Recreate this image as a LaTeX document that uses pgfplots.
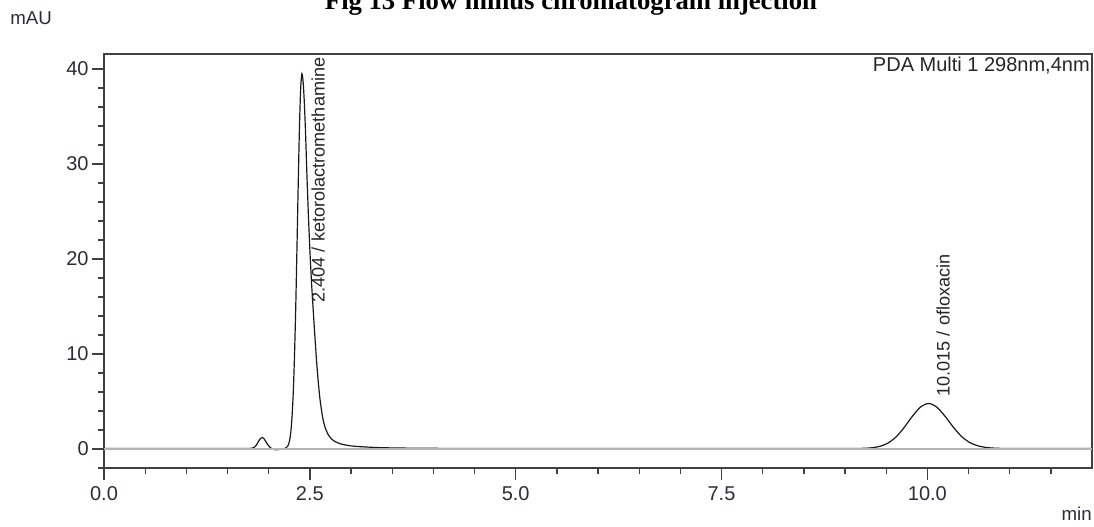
\documentclass[border=0pt]{standalone}
\usepackage{fontspec}
\setmainfont{Liberation Sans}
\newfontfamily\titlefont{Liberation Serif}
\usepackage{pgfplots}
\pgfplotsset{compat=1.18}
\usepackage{pgfplotstable}
\definecolor{axcol}{HTML}{404040}
\definecolor{tickcol}{HTML}{2A2C3C}
\definecolor{basecol}{HTML}{B4B4B4}
\pgfplotstableread{
x y
0.00 0.05
1.00 0.05
1.70 0.05
1.78 0.07
1.82 0.15
1.85 0.40
1.88 0.85
1.90 1.10
1.92 1.22
1.94 1.12
1.96 0.85
1.99 0.45
2.02 0.15
2.05 -0.02
2.09 -0.08
2.13 -0.05
2.17 0.02
2.20 0.06
2.234 0.33
2.254 0.88
2.269 1.8
2.284 3.4
2.299 6.0
2.314 9.9
2.329 15.0
2.344 21.3
2.359 27.9
2.374 33.9
2.389 38.0
2.404 39.5
2.419 38.6
2.434 36.3
2.449 33.0
2.464 29.0
2.484 24.3
2.504 20.3
2.524 17.0
2.544 14.2
2.564 11.5
2.584 9.0
2.604 6.9
2.624 5.2
2.654 3.4
2.684 2.3
2.724 1.5
2.764 1.05
2.804 0.8
2.854 0.6
2.904 0.47
3.00 0.33
3.10 0.25
3.25 0.18
3.40 0.13
3.70 0.09
4.00 0.07
5.00 0.05
9.00 0.05
9.215 0.07
9.315 0.12
9.415 0.26
9.515 0.59
9.615 1.23
9.715 2.22
9.815 3.41
9.915 4.41
10.015 4.80
10.115 4.41
10.215 3.45
10.315 2.30
10.415 1.32
10.515 0.68
10.615 0.33
10.715 0.16
10.815 0.09
10.915 0.06
11.20 0.05
12.00 0.05
}\signal
\pgfplotstableread{
x y
0 0.05
12 0.05
}\baseline
\begin{document}
\begin{tikzpicture}
\begin{axis}[
  name=ax,
  at={(0,0)}, anchor=south west,
  scale only axis,
  width=741pt, height=310.5pt,
  xmin=0, xmax=12, ymin=-2, ymax=41.58,
  axis line style={color=axcol, line width=1.1pt},
  every tick/.style={color=axcol, line width=1.0pt},
  tick align=outside,
  major tick length=9pt, minor tick length=4.5pt,
  xtick={0,2.5,5,7.5,10},
  xticklabels={0.0,2.5,5.0,7.5,10.0},
  minor xtick={0.5,1,1.5,2,3,3.5,4,4.5,5.5,6,6.5,7,8,8.5,9,9.5,10.5,11,11.5},
  ytick={0,10,20,30,40},
  minor ytick={-2,2,4,6,8,12,14,16,18,22,24,26,28,32,34,36,38},
  xtick pos=bottom, ytick pos=left,
  /pgf/number format/assume math mode=true,
  tick label style={font=\fontsize{15}{17}\selectfont, text=tickcol},
  xticklabel style={yshift=-1.5pt},
  yticklabel style={xshift=1pt},
  clip=false,
]
\addplot[black!90, line width=0.9pt, smooth, tension=0.4] table[x=x,y=y]{\signal};
\addplot[basecol, line width=1.5pt] table[x=x,y=y]{\baseline};
\node[rotate=90, anchor=base west, inner sep=0pt, font=\fontsize{13.6}{15}\selectfont, text=black!85]
  at (axis cs:2.68,15.4) {2.404 / ketorolactromethamine};
\node[rotate=90, anchor=base west, inner sep=0pt, font=\fontsize{13.6}{15}\selectfont, text=black!85]
  at (axis cs:10.27,5.5) {10.015 / ofloxacin};
\node[anchor=base east, inner sep=0pt, font=\fontsize{15}{17}\selectfont, text=black!85]
  at ([xshift=-1.5pt,yshift=-13.3pt]rel axis cs:1,1) {PDA Multi 1 298nm,4nm};
\node[anchor=base west, inner sep=0pt, font=\fontsize{14}{16}\selectfont, text=tickcol]
  at ([xshift=-70.5pt,yshift=21.75pt]rel axis cs:0,1) {mAU};
\node[anchor=base east, inner sep=0pt, font=\fontsize{14}{16}\selectfont, text=tickcol]
  at ([xshift=0pt,yshift=-39.75pt]rel axis cs:1,0) {min};
\node[anchor=base, inner sep=0pt, font=\titlefont\bfseries\fontsize{20}{24}\selectfont]
  at ([xshift=350.25pt,yshift=33.4pt]rel axis cs:0,1) {Fig 13 Flow minus chromatogram injection};
\end{axis}
\pgfresetboundingbox
\useasboundingbox ([shift={(-78pt,-44.25pt)}]ax.south west) rectangle ([shift={(1.5pt,40.5pt)}]ax.north east);
\end{tikzpicture}
\end{document}
